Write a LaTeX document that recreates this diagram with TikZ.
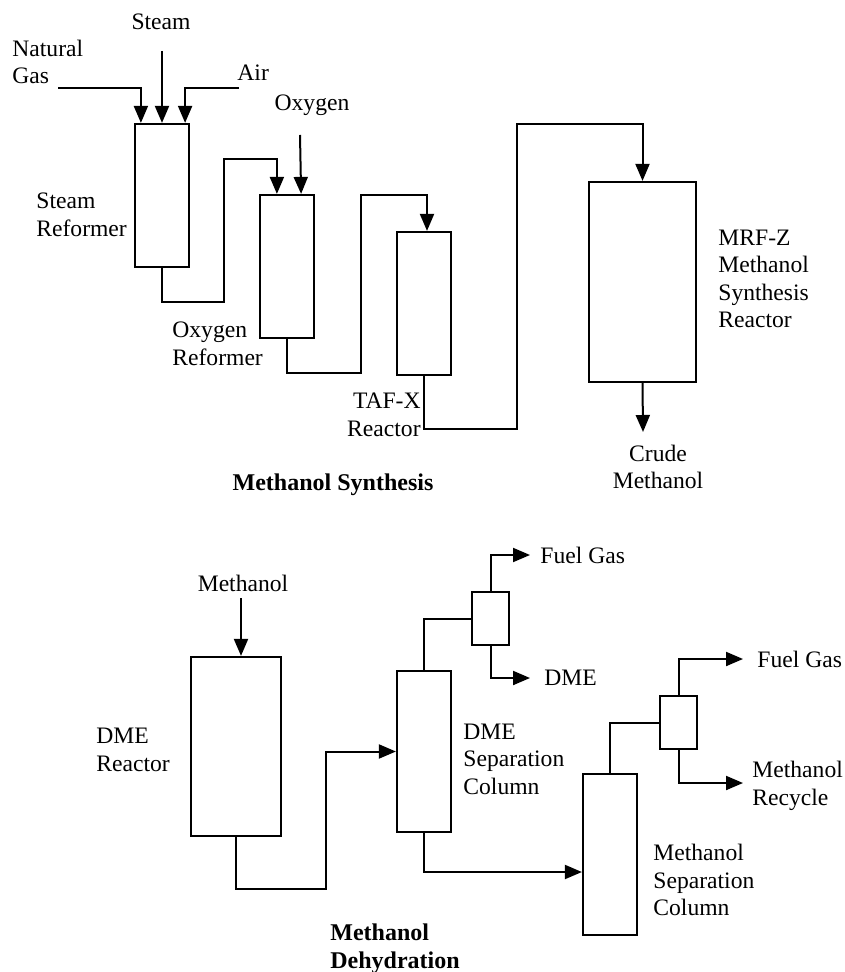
\documentclass[tikz,border=0pt]{standalone}
\usepackage{fontspec}
\setmainfont{Liberation Serif}
\usetikzlibrary{arrows.meta,fit,calc}
\tikzset{
    unit/.style={draw, line width=1.1pt, inner sep=0pt},
    pipe/.style={line width=1pt},
    flow/.style={line width=1pt, -{Triangle[length=8.5pt,width=7pt]}},
    lbl/.style={inner sep=0pt, align=left, anchor=west},
    heading/.style={inner sep=0pt, align=left, font=\fontsize{12}{14}\selectfont\bfseries}
}
\begin{document}
\begin{tikzpicture}[x=0.5pt, y=-0.5pt, font=\fontsize{11.8}{13.7}\selectfont]
    \useasboundingbox (0,0) rectangle (844,972);

    % Methanol synthesis units
    \node[unit, fit={(135,124) (189,267)}] (sr) {};
    \node[unit, fit={(260,195) (314,338)}] (or) {};
    \node[unit, fit={(397,232) (451,375)}] (taf) {};
    \node[unit, fit={(589,182) (696,382)}] (mrf) {};

    % Feeds
    \coordinate (ngin) at (58,88);
    \coordinate (stin) at (162,51);
    \coordinate (airin) at (239,88);
    \coordinate (oxin) at (300,135);
    \draw[flow] (ngin) -| ($(sr.north west)+(7,0)$);
    \draw[flow] (stin) -- (sr.north);
    \draw[flow] (airin) -| ($(sr.north east)+(-5,0)$);
    \draw[flow] (oxin) -- ($(or.north east)+(-14,0)$);

    % Transfer lines
    \draw[flow] (sr.south) |- (224,302) -- (224,159) -| ($(or.north west)+(18,0)$);
    \draw[flow] (or.south) |- (361,373) -- (361,195) -| ($(taf.north)+(3,0)$);
    \draw[flow] (taf.south) |- (517,429) -- (517,124) -| (mrf.north);
    \coordinate (crude) at (643,432);
    \draw[flow] (mrf.south) -- (crude);

    % Labels
    \node[lbl] (ngl) at (12,62) {Natural\\Gas};
    \node[inner sep=0pt] (stl) at (161,22) {Steam};
    \node[lbl] (airl) at (237,73) {Air};
    \node[inner sep=0pt] (oxl) at (312,105) {Oxygen};
    \node[lbl] (srl) at (36,215) {Steam\\Reformer};
    \node[lbl] (orl) at (172,344) {Oxygen\\Reformer};
    \node[inner sep=0pt, align=right, anchor=east] (tafl) at (421,415) {TAF-X\\Reactor};
    \node[lbl] (mrfl) at (718,279) {MRF-Z\\Methanol\\Synthesis\\Reactor};
    \node[inner sep=0pt, align=center] (crl) at (658,467) {Crude\\Methanol};
    \node[heading] (syn) at (333,485) {Methanol Synthesis};

    % Methanol dehydration units
    \node[unit, fit={(191,657) (281,836)}] (dr) {};
    \node[unit, fit={(397,671) (451,832)}] (dc) {};
    \node[unit, fit={(472,592) (509,645)}] (cd1) {};
    \node[unit, fit={(583,774) (637,935)}] (mc) {};
    \node[unit, fit={(660,696) (697,749)}] (cd2) {};

    % Streams
    \coordinate (mein) at (241,598);
    \coordinate (fg1) at (530,555);
    \coordinate (dme) at (530,678);
    \coordinate (fg2) at (743,659);
    \coordinate (rec) at (743,783);
    \draw[flow] (mein) -- ($(dr.north)+(5,0)$);
    \draw[flow] (dr.south) |- (326,889) |- (dc.west);
    \draw[pipe] (dc.north) |- (cd1.west);
    \draw[flow] (cd1.north) |- (fg1);
    \draw[flow] (cd1.south) |- (dme);
    \draw[flow] (dc.south) |- ($(mc.west)+(0,17.5)$);
    \draw[pipe] (mc.north) |- (cd2.west);
    \draw[flow] (cd2.north) |- (fg2);
    \draw[flow] (cd2.south) |- (rec);

    % Labels
    \node[inner sep=0pt] (mel) at (243,583) {Methanol};
    \node[lbl] (drl) at (96,750) {DME\\Reactor};
    \node[lbl] (dcl) at (463,759) {DME\\Separation\\Column};
    \node[lbl] (mcl) at (653,880) {Methanol\\Separation\\Column};
    \node[lbl] (fg1l) at (540,555) {Fuel Gas};
    \node[lbl] (dmel) at (544,678) {DME};
    \node[lbl] (fg2l) at (757,659) {Fuel Gas};
    \node[lbl] (recl) at (752,786) {Methanol\\Recycle};
    \node[heading, anchor=west] (dehy) at (330,949) {Methanol\\Dehydration};
\end{tikzpicture}
\end{document}
